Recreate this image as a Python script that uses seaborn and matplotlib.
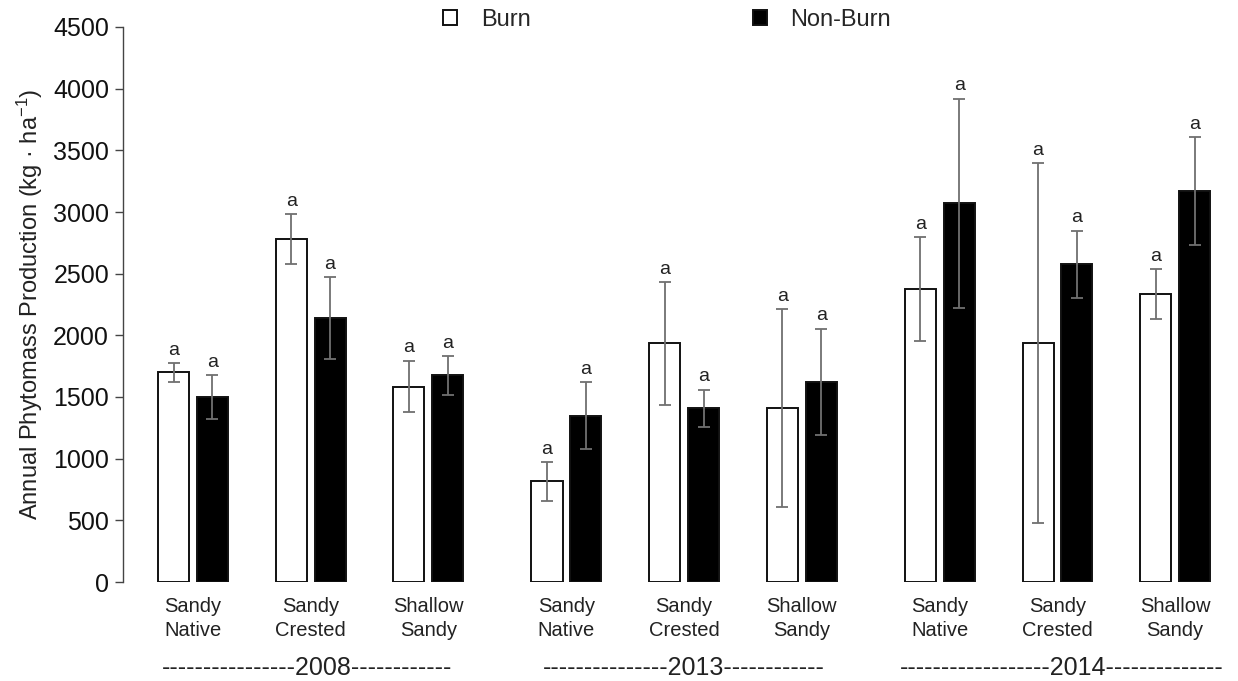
import numpy as np
import pandas as pd
import seaborn as sns
import matplotlib.pyplot as plt
import matplotlib.transforms as mtransforms

# data
years = ['2008', '2013', '2014']
sites = ['Sandy\nNative', 'Sandy\nCrested', 'Shallow\nSandy']
burn_mean = [1700, 2780, 1585, 815, 1935, 1410, 2375, 1935, 2335]
burn_err = [75, 200, 210, 160, 500, 805, 420, 1460, 200]
nonburn_mean = [1500, 2140, 1675, 1350, 1410, 1625, 3070, 2575, 3170]
nonburn_err = [175, 335, 155, 270, 150, 430, 850, 275, 435]
treatments = ['Burn', 'Non-Burn']
letters_burn = ['a'] * 9
letters_nonburn = ['a'] * 9

year_gap = 0.173  # extra space between year blocks

rows = []
for yi, yr in enumerate(years):
    for si, s in enumerate(sites):
        k = yi * 3 + si
        pos = k + yi * year_gap
        rows.append(dict(year=yr, site=s, pos=pos, treatment='Burn',
                         value=burn_mean[k], err=burn_err[k], letter=letters_burn[k]))
        rows.append(dict(year=yr, site=s, pos=pos, treatment='Non-Burn',
                         value=nonburn_mean[k], err=nonburn_err[k], letter=letters_nonburn[k]))
df = pd.DataFrame(rows)

sns.set_style('white')
plt.rcParams['font.family'] = ['Liberation Sans', 'DejaVu Sans']
plt.rcParams['mathtext.fontset'] = 'custom'
plt.rcParams['mathtext.rm'] = 'Liberation Sans'
plt.rcParams['mathtext.it'] = 'Liberation Sans:italic'

fig = plt.figure(figsize=(12.38, 6.81), dpi=100)
ax = fig.add_axes([123 / 1238, 1 - 582 / 681, 1115 / 1238, 555 / 681])

sns.barplot(data=df, x='pos', y='value', hue='treatment', hue_order=treatments,
            native_scale=True, width=0.66, gap=0.2, saturation=1,
            palette={'Burn': 'white', 'Non-Burn': 'black'},
            edgecolor='#111111', linewidth=1.4, errorbar=None, ax=ax)

# error bars + significance letters
for cont, tr in zip(ax.containers, treatments):
    sub = df[df.treatment == tr].sort_values('pos')
    for bar, (_, r) in zip(cont, sub.iterrows()):
        xc = bar.get_x() + bar.get_width() / 2
        ax.errorbar(xc, r.value, yerr=r.err, color='#707070', lw=1.3,
                    capsize=4, capthick=1.3, zorder=3)
        ax.annotate(r.letter, (xc, r.value + r.err), xytext=(0, 3),
                    textcoords='offset points', ha='center', va='bottom',
                    fontsize=14, color='#222222')

ax.set_xlim(-0.595, 8.88)
ax.set_ylim(0, 4500)
ax.set_yticks(np.arange(0, 4501, 500))
ax.tick_params(axis='y', labelsize=18, length=6, width=1, color='#444444',
               labelcolor='#111111', left=True, direction='out', pad=4)

pos_ticks = sorted(df.pos.unique())
ax.set_xticks(pos_ticks)
ax.set_xticklabels(sites * 3, fontsize=14.5, color='#222222', linespacing=1.3)
ax.tick_params(axis='x', length=0, pad=11)
ax.set_xlabel('')
ax.set_ylabel('Annual Phytomass Production (kg · ha$^{\\mathregular{-1}}$)',
              fontsize=17, color='#222222', labelpad=6)

for side in ['top', 'right', 'bottom']:
    ax.spines[side].set_visible(False)
ax.spines['left'].set_color('#444444')
ax.spines['left'].set_linewidth(1)

# year labels under each block
trans = mtransforms.blended_transform_factory(ax.transData, ax.transAxes)
year_text = ['-' * 16 + '2008' + '-' * 12,
             '-' * 15 + '2013' + '-' * 12,
             '-' * 18 + '2014' + '-' * 14]
year_shift = [-0.03, 0.0, 0.04]
for yi, t in enumerate(year_text):
    mid = pos_ticks[yi * 3 + 1] + year_shift[yi]
    ax.text(mid, -0.155, t, transform=trans, ha='center', va='center',
            fontsize=18, color='#222222', clip_on=False)

sns.move_legend(ax, loc='center', bbox_to_anchor=(667 / 1238, 1 - 20 / 681),
                bbox_transform=fig.transFigure, ncol=2, frameon=False, title=None,
                fontsize=17, handlelength=0.6, handleheight=0.6,
                handletextpad=1.0, columnspacing=9.4)

fig.savefig('out.png', dpi=100)
